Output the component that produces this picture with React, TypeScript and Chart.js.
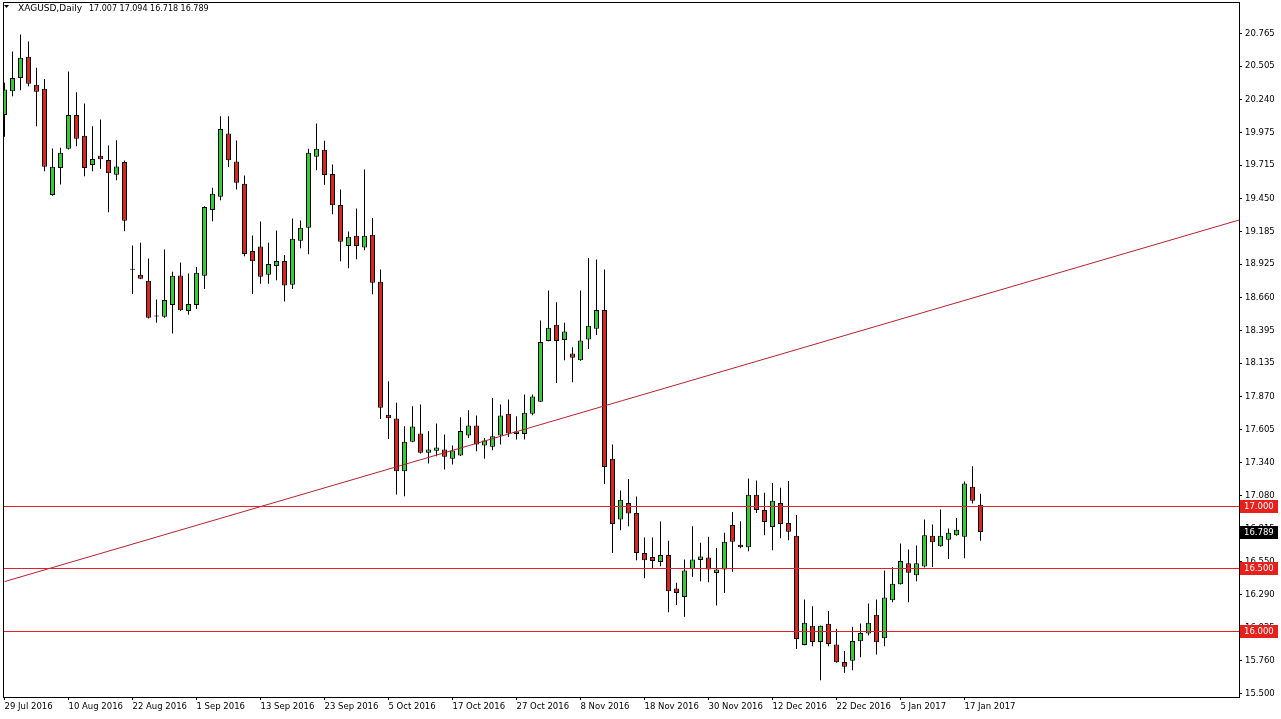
import React, { useEffect, useRef } from 'react';
import { Chart, registerables } from 'chart.js';

Chart.register(...registerables);

const symbolTitle = 'XAGUSD,Daily';

const opens = [
  20.116, 20.305, 20.411, 20.579, 20.356, 20.324, 19.476, 19.693, 19.845, 20.116,
  19.949, 19.717, 19.789, 19.757, 19.638, 19.741, 18.889, 18.840, 18.792, 18.515,
  18.505, 18.600, 18.834, 18.552, 18.600, 18.832, 19.358, 19.462, 19.967, 19.744,
  19.566, 19.031, 19.066, 18.840, 18.911, 18.951, 18.760, 19.111, 19.215, 19.781,
  19.837, 19.645, 19.398, 19.071, 19.151, 19.058, 19.159, 18.784, 17.723, 17.694,
  17.274, 17.508, 17.574, 17.420, 17.436, 17.446, 17.372, 17.398, 17.558, 17.638,
  17.478, 17.468, 17.558, 17.731, 17.590, 17.571, 17.731, 17.827, 18.313, 18.441,
  18.321, 18.212, 18.159, 18.324, 18.409, 18.560, 17.372, 16.888, 17.021, 16.941,
  16.622, 16.590, 16.550, 16.606, 16.338, 16.271, 16.494, 16.566, 16.585, 16.462,
  16.489, 16.845, 16.686, 16.667, 17.085, 16.965, 16.829, 17.021, 16.861, 16.758,
  15.888, 16.040, 15.912, 16.056, 15.891, 15.752, 15.761, 15.917, 15.979, 16.128,
  15.941, 16.245, 16.372, 16.540, 16.444, 16.513, 16.758, 16.675, 16.726, 16.763,
  16.750, 17.149, 17.007,
];

const highs = [
  20.372, 20.622, 20.757, 20.701, 20.491, 20.403, 19.848, 19.853, 20.462, 20.297,
  20.207, 20.026, 20.079, 19.872, 19.914, 19.752, 19.074, 19.095, 18.970, 18.643,
  19.042, 18.864, 18.938, 18.850, 18.903, 19.387, 19.534, 20.105, 20.105, 19.911,
  19.632, 19.153, 19.265, 19.095, 19.193, 18.999, 19.289, 19.273, 19.845, 20.047,
  19.909, 19.720, 19.520, 19.185, 19.369, 19.680, 19.294, 18.882, 17.991, 17.819,
  17.632, 17.792, 17.805, 17.593, 17.654, 17.566, 17.478, 17.704, 17.760, 17.718,
  17.539, 17.858, 17.805, 17.845, 17.712, 17.885, 17.885, 18.475, 18.715, 18.622,
  18.457, 18.263, 18.715, 18.975, 18.962, 18.882, 17.486, 17.119, 17.212, 17.071,
  16.744, 16.744, 16.872, 16.718, 16.383, 16.569, 16.835, 16.702, 16.750, 16.662,
  16.782, 16.949, 16.875, 17.215, 17.199, 17.101, 17.180, 17.141, 17.196, 16.925,
  16.250, 16.197, 16.043, 16.159, 16.016, 15.840, 16.032, 16.058, 16.218, 16.250,
  16.481, 16.508, 16.697, 16.649, 16.681, 16.888, 16.848, 16.968, 16.816, 16.901,
  17.191, 17.313, 17.094,
];

const lows = [
  19.941, 20.265, 20.313, 20.345, 20.026, 19.667, 19.470, 19.561, 19.840, 19.866,
  19.627, 19.667, 19.686, 19.340, 19.595, 19.188, 18.688, 18.805, 18.491, 18.457,
  18.497, 18.372, 18.552, 18.521, 18.568, 18.728, 19.268, 19.435, 19.701, 19.520,
  18.989, 18.688, 18.768, 18.768, 18.797, 18.627, 18.728, 19.052, 19.004, 19.675,
  19.558, 19.324, 18.949, 18.893, 18.965, 19.036, 18.685, 17.691, 17.531, 17.087,
  17.074, 17.505, 17.414, 17.335, 17.393, 17.287, 17.327, 17.395, 17.539, 17.433,
  17.372, 17.441, 17.486, 17.547, 17.526, 17.526, 17.720, 17.825, 18.310, 17.978,
  18.159, 17.983, 18.155, 18.249, 18.361, 17.172, 16.622, 16.803, 16.835, 16.564,
  16.420, 16.494, 16.516, 16.149, 16.207, 16.112, 16.431, 16.396, 16.388, 16.202,
  16.303, 16.471, 16.659, 16.635, 16.941, 16.763, 16.643, 16.739, 16.723, 15.856,
  15.885, 15.878, 15.606, 15.878, 15.745, 15.665, 15.686, 15.790, 15.963, 15.811,
  15.878, 16.229, 16.370, 16.229, 16.396, 16.505, 16.510, 16.672, 16.574, 16.758,
  16.580, 17.016, 16.718,
];

const closes = [
  20.318, 20.411, 20.571, 20.364, 20.300, 19.702, 19.702, 19.813, 20.116, 19.925,
  19.693, 19.765, 19.763, 19.651, 19.704, 19.271, 18.881, 18.808, 18.497, 18.507,
  18.640, 18.832, 18.558, 18.608, 18.856, 19.382, 19.486, 20.004, 19.754, 19.574,
  19.007, 18.949, 18.824, 18.927, 18.951, 18.755, 19.127, 19.215, 19.813, 19.845,
  19.637, 19.395, 19.103, 19.143, 19.071, 19.151, 18.776, 17.779, 17.696, 17.274,
  17.508, 17.630, 17.420, 17.446, 17.462, 17.388, 17.438, 17.595, 17.638, 17.486,
  17.518, 17.553, 17.717, 17.574, 17.571, 17.739, 17.869, 18.305, 18.417, 18.313,
  18.388, 18.178, 18.316, 18.433, 18.560, 17.308, 16.853, 17.045, 16.936, 16.622,
  16.564, 16.558, 16.606, 16.316, 16.303, 16.481, 16.569, 16.593, 16.489, 16.489,
  16.710, 16.710, 16.667, 17.085, 16.965, 16.869, 17.037, 16.853, 16.790, 15.936,
  16.064, 15.912, 16.040, 15.896, 15.750, 15.713, 15.920, 15.984, 16.064, 15.909,
  16.266, 16.375, 16.558, 16.463, 16.540, 16.763, 16.707, 16.758, 16.782, 16.806,
  17.175, 17.037, 16.789,
];

const dateTickBars = [0, 8, 16, 24, 32, 40, 48, 56, 64, 72, 80, 88, 96, 104, 112, 120];
const dateTickLabels = [
  '29 Jul 2016', '10 Aug 2016', '22 Aug 2016', '1 Sep 2016', '13 Sep 2016', '23 Sep 2016',
  '5 Oct 2016', '17 Oct 2016', '27 Oct 2016', '8 Nov 2016', '18 Nov 2016', '30 Nov 2016',
  '12 Dec 2016', '22 Dec 2016', '5 Jan 2017', '17 Jan 2017',
];

const priceTickLabels = [
  '20.765', '20.505', '20.240', '19.975', '19.715', '19.450', '19.185', '18.925', '18.660',
  '18.395', '18.135', '17.870', '17.605', '17.340', '17.080', '16.815', '16.550', '16.290',
  '16.025', '15.760', '15.500',
];

const levelPrices = [17.0, 16.5, 16.0];
const trendAnchorBars = [0, 155];
const trendAnchorPrices = [16.393, 19.29];

const xRange = [-0.1875, 154.3125];
const yRange = [15.4725, 21.0164];

const BULL = '#33cc33';
const BEAR = '#d9261c';
const LEVEL = '#e0202a';
const TREND = '#b8202a';
const LABEL_RED = '#e8201c';
const FONT = '"DejaVu Sans", Tahoma, sans-serif';

const fmt = (v: number) => v.toFixed(3);

const overlayPlugin = {
  id: 'mt4overlay',
  afterDatasetsDraw(chart: any) {
    const { ctx, chartArea: a, scales } = chart;
    const y = scales.y;
    ctx.save();
    ctx.beginPath();
    ctx.rect(a.left, a.top, a.right - a.left, a.bottom - a.top);
    ctx.clip();
    ctx.strokeStyle = LEVEL;
    ctx.lineWidth = 1;
    levelPrices.forEach((p) => {
      const py = Math.round(y.getPixelForValue(p)) + 0.5;
      ctx.beginPath();
      ctx.moveTo(a.left, py);
      ctx.lineTo(a.right, py);
      ctx.stroke();
    });
    ctx.restore();
  },
  afterDraw(chart: any) {
    const { ctx, chartArea: a, scales } = chart;
    const y = scales.y;
    ctx.save();
    ctx.strokeStyle = '#000';
    ctx.lineWidth = 1;
    ctx.strokeRect(a.left + 0.5, a.top + 0.5, a.right - a.left, a.bottom - a.top);

    const drawBox = (price: number, bg: string) => {
      const py = Math.round(y.getPixelForValue(price)) + 0.5;
      ctx.fillStyle = bg;
      ctx.fillRect(a.right + 1, py - 6.5, 38, 13);
      ctx.fillStyle = '#fff';
      ctx.font = `8.5px ${FONT}`;
      ctx.textBaseline = 'middle';
      ctx.textAlign = 'left';
      ctx.fillText(fmt(price), a.right + 5, py + 0.5);
    };
    levelPrices.forEach((p) => drawBox(p, LABEL_RED));
    drawBox(closes[closes.length - 1], '#000');

    const n = closes.length - 1;
    ctx.fillStyle = '#000';
    ctx.beginPath();
    ctx.moveTo(4, 5);
    ctx.lineTo(9, 5);
    ctx.lineTo(6.5, 8);
    ctx.closePath();
    ctx.fill();
    ctx.textBaseline = 'middle';
    ctx.textAlign = 'left';
    ctx.font = `9px ${FONT}`;
    ctx.fillText(symbolTitle, 18, 9);
    ctx.font = `8px ${FONT}`;
    ctx.fillText(`${fmt(opens[n])} ${fmt(highs[n])} ${fmt(lows[n])} ${fmt(closes[n])}`, 89, 9);
    ctx.restore();
  },
};

export default function App() {
  const ref = useRef<HTMLCanvasElement | null>(null);

  useEffect(() => {
    document.body.style.margin = '0';
    const canvas = ref.current;
    if (!canvas) return;

    const bodies = opens.map((o, i) => ({ x: i, y: [o, closes[i]] }));
    const wicks = lows.map((l, i) => ({ x: i, y: [l, highs[i]] }));
    const bodyColors = opens.map((o, i) => (closes[i] >= o ? BULL : BEAR));
    const trend = trendAnchorBars.map((b, i) => ({ x: b, y: trendAnchorPrices[i] }));

    const chart = new Chart(canvas, {
      type: 'bar',
      data: {
        datasets: [
          {
            type: 'line',
            data: trend,
            borderColor: TREND,
            borderWidth: 1,
            pointRadius: 0,
            tension: 0,
            order: -1,
          } as any,
          {
            data: bodies,
            backgroundColor: bodyColors,
            borderColor: '#000',
            borderWidth: 1,
            borderSkipped: false,
            barThickness: 5,
            grouped: false,
            inflateAmount: 0,
            order: 0,
          } as any,
          {
            data: wicks,
            backgroundColor: '#000',
            borderWidth: 0,
            barThickness: 1,
            grouped: false,
            inflateAmount: 0,
            order: 1,
          } as any,
        ],
      },
      options: {
        animation: false,
        responsive: false,
        events: [],
        layout: { padding: { left: 3, top: 2, right: 0, bottom: 0 }, autoPadding: false } as any,
        plugins: { legend: { display: false }, tooltip: { enabled: false }, title: { display: false } },
        scales: {
          x: {
            type: 'linear',
            position: 'bottom',
            min: xRange[0],
            max: xRange[1],
            offset: false,
            afterBuildTicks: (s: any) => {
              s.ticks = dateTickBars.map((v) => ({ value: v }));
            },
            afterFit: (s: any) => {
              s.height = 22;
              s.paddingLeft = 0;
              s.paddingRight = 0;
            },
            ticks: {
              callback: (_v: any, i: number) => dateTickLabels[i],
              align: 'start',
              maxRotation: 0,
              minRotation: 0,
              autoSkip: false,
              padding: 2,
              color: '#000',
              font: { family: FONT, size: 8.5 },
            },
            grid: { drawOnChartArea: false, drawTicks: true, tickLength: 3, color: '#000', offset: false },
            border: { display: false },
          } as any,
          y: {
            type: 'linear',
            position: 'right',
            min: yRange[0],
            max: yRange[1],
            afterBuildTicks: (s: any) => {
              s.ticks = priceTickLabels.map((t) => ({ value: parseFloat(t) }));
            },
            afterFit: (s: any) => {
              s.width = 42;
              s.paddingTop = 0;
              s.paddingBottom = 0;
            },
            ticks: {
              callback: (_v: any, i: number) => priceTickLabels[i],
              padding: 3,
              color: '#000',
              autoSkip: false,
              font: { family: FONT, size: 8.5 },
            },
            grid: { drawOnChartArea: false, drawTicks: true, tickLength: 3, color: '#000' },
            border: { display: false },
          } as any,
        },
      },
      plugins: [overlayPlugin],
    } as any);

    return () => chart.destroy();
  }, []);

  return (
    <div style={{ position: 'fixed', left: 0, top: 0, width: 1281, height: 719, background: '#fff' }}>
      <canvas ref={ref} width={1281} height={719} style={{ display: 'block', width: 1281, height: 719 }} />
    </div>
  );
}
